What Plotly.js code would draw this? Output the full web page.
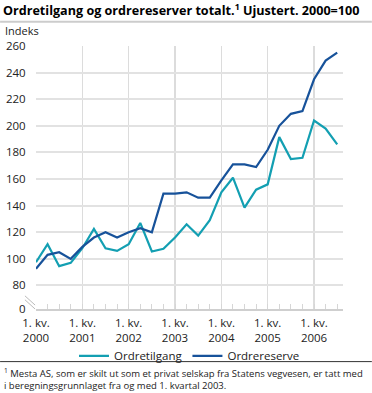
<!DOCTYPE html>
<html>
<head>
<meta charset="utf-8">
<script src="https://cdn.plot.ly/plotly-3.0.1.min.js"></script>
<style>
html,body{margin:0;padding:0;background:#fff;}
#chart{width:372px;height:393px;}
</style>
</head>
<body>
<div id="chart"></div>
<script>
// Quarters 2000 K1 – 2006 K3
const quarters = ['2000K1','2000K2','2000K3','2000K4','2001K1','2001K2','2001K3','2001K4',
  '2002K1','2002K2','2002K3','2002K4','2003K1','2003K2','2003K3','2003K4',
  '2004K1','2004K2','2004K3','2004K4','2005K1','2005K2','2005K3','2005K4',
  '2006K1','2006K2','2006K3'];
const ordretilgang = [97.5,111,94.5,97,108,122.5,108,106,111,127,105.5,107.5,116,126,117.5,129,
  150,161,138.5,152,156,191.5,175,176,204,198,186];
const ordrereserve = [92.5,103,105,100,109,116,120,116,120,123,120,149,149,150,146,146,
  159,171,171,169,182,200,209,211,235,249,255];
const yearTickQuarters = ['2000K1','2001K1','2002K1','2003K1','2004K1','2005K1','2006K1'];
const yearTickText = ['1. kv.<br>2000','1. kv.<br>2001','1. kv.<br>2002','1. kv.<br>2003','1. kv.<br>2004','1. kv.<br>2005','1. kv.<br>2006'];
const yTickVals = [80,100,120,140,160,180,200,220,240,260];
const yTickText = ['80','100','120','140','160','180','200','220','240','260'];
// broken axis: the "0" label sits at the bottom of the plot
const yBreakPos = 62.3;

const xIdx = quarters.map((q,i)=>i);
const FONT = 'Open Sans, sans-serif';

const traces = [
  {x:xIdx, y:ordretilgang, name:'Ordretilgang', type:'scatter', mode:'lines',
   line:{color:'#139fb2', width:2.2}},
  {x:xIdx, y:ordrereserve, name:'Ordrereserve', type:'scatter', mode:'lines',
   line:{color:'#17529a', width:2.2}}
];

const layout = {
  width:372, height:393,
  margin:{l:36, r:29, t:46, b:84},
  paper_bgcolor:'#fff', plot_bgcolor:'#fff',
  font:{family:FONT, size:12, color:'#333'},
  showlegend:true,
  title:{text:'<b>Ordretilgang og ordrereserver totalt.<sup>1</sup> Ujustert. 2000=100</b>',
    x:0.008, xanchor:'left', xref:'container', y:0.972, yanchor:'middle', yref:'container',
    font:{family:FONT, size:12.6, color:'#000'}},
  xaxis:{
    type:'linear', range:[0,26.5], fixedrange:true,
    tickvals:yearTickQuarters.map(q=>quarters.indexOf(q)), ticktext:yearTickText,
    showgrid:true, gridcolor:'#dcdcdc', gridwidth:1.5,
    ticks:'inside', ticklen:5, tickcolor:'#d6d6d6',
    minor:{dtick:1, tick0:0, ticks:'inside', ticklen:5, tickcolor:'#d6d6d6', showgrid:false},
    showline:true, linecolor:'#cfcfcf', linewidth:1.5,
    zeroline:false, ticklabelstandoff:3,
    tickfont:{family:FONT, size:11.5, color:'#222'}
  },
  yaxis:{
    range:[yBreakPos,260], fixedrange:true,
    tickvals:[yBreakPos].concat(yTickVals), ticktext:['0'].concat(yTickText),
    showgrid:true, gridcolor:'#e2e2e2', gridwidth:2,
    ticks:'outside', ticklen:7, tickcolor:'rgba(0,0,0,0)',
    showline:false, zeroline:false,
    tickfont:{family:FONT, size:11.5, color:'#222'}
  },
  legend:{orientation:'h', x:0.5, xanchor:'center', y:-0.178, yanchor:'middle',
    font:{family:FONT, size:11.5, color:'#222'}, itemwidth:30, tracegroupgap:0,
    bgcolor:'rgba(0,0,0,0)'},
  shapes:[
    {type:'line', xref:'paper', yref:'paper', x0:-0.117, x1:1.094, y0:1.092, y1:1.092,
     line:{color:'#cccccc', width:2}},
    {type:'line', xref:'paper', yref:'paper', x0:-0.117, x1:1.094, y0:-0.2, y1:-0.2,
     line:{color:'#333333', width:1}},
    {type:'line', xref:'paper', yref:'paper', x0:-0.036, x1:-0.003, y0:0.05, y1:0.015,
     line:{color:'#bbbbbb', width:1}},
    {type:'line', xref:'paper', yref:'paper', x0:-0.036, x1:-0.003, y0:0.035, y1:0.0,
     line:{color:'#bbbbbb', width:1}}
  ],
  annotations:[
    {text:'Indeks', xref:'paper', yref:'paper', x:-0.105, y:1.058, xanchor:'left', yanchor:'middle',
     showarrow:false, borderpad:0, font:{family:FONT, size:11, color:'#222'}},
    {text:'<sup>1</sup> Mesta AS, som er skilt ut som et privat selskap fra Statens vegvesen, er tatt med<br>i beregningsgrunnlaget fra og med 1. kvartal 2003.',
     xref:'paper', yref:'paper', x:-0.11, y:-0.21, xanchor:'left', yanchor:'top', align:'left',
     showarrow:false, font:{family:FONT, size:9.5, color:'#222'}}
  ]
};

Plotly.newPlot('chart', traces, layout, {displayModeBar:false, staticPlot:true});
</script>
</body>
</html>
